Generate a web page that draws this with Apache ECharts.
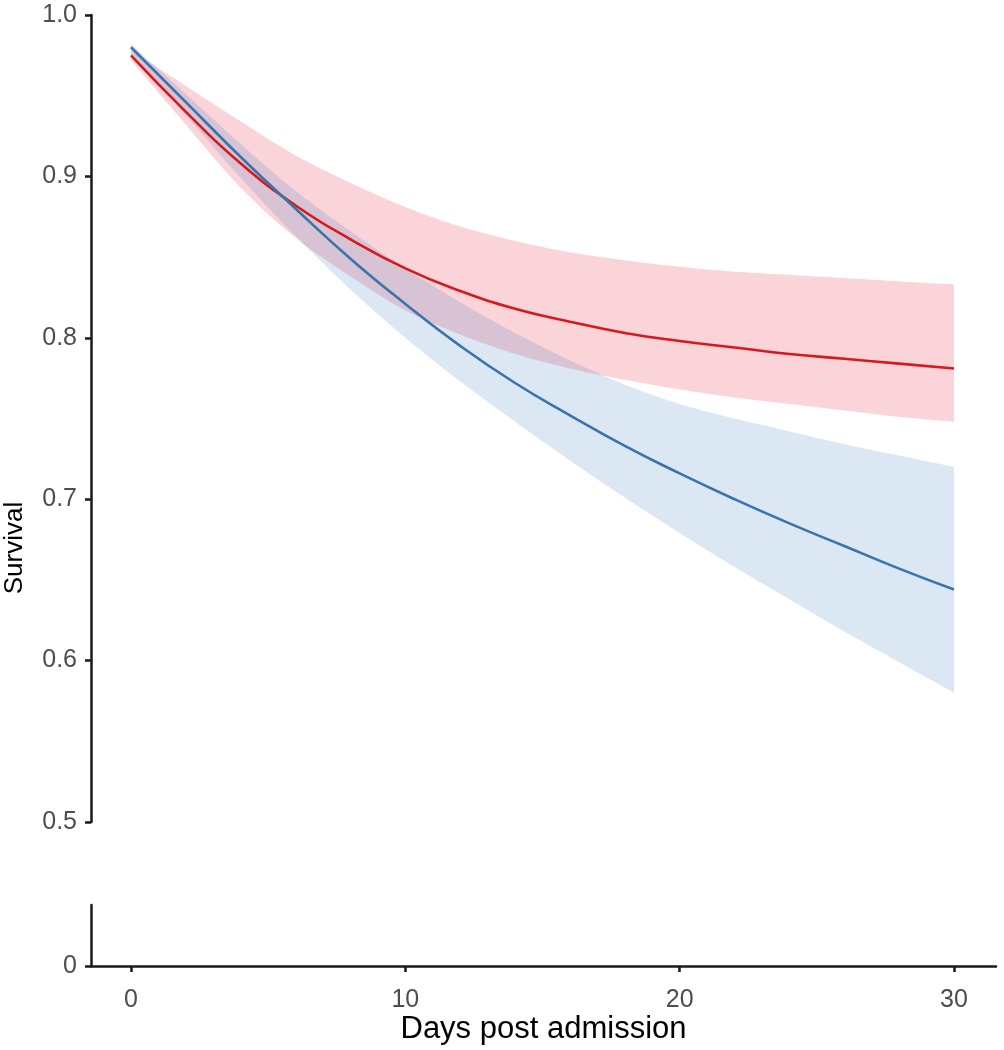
<!DOCTYPE html>
<html><head><meta charset="utf-8">
<script src="https://cdn.jsdelivr.net/npm/echarts@6/dist/echarts.min.js"></script>
<style>html,body{margin:0;padding:0;background:#fff}#c{width:1004px;height:1050px}</style>
</head><body><div id="c"></div>
<script>
const days = [0,2,4,6,8,10,12,14,16,18,20,22,24,26,28,30];
const redMean   = [0.975,0.940,0.908,0.882,0.861,0.843,0.829,0.818,0.810,0.803,0.798,0.794,0.790,0.787,0.784,0.781];
const redUpper  = [0.978,0.956,0.934,0.913,0.896,0.881,0.869,0.860,0.853,0.848,0.844,0.841,0.839,0.837,0.835,0.833];
const redLower  = [0.972,0.932,0.893,0.862,0.838,0.817,0.802,0.790,0.781,0.774,0.768,0.763,0.759,0.755,0.751,0.748];
const blueMean  = [0.980,0.946,0.912,0.880,0.849,0.821,0.795,0.772,0.752,0.733,0.716,0.700,0.685,0.671,0.657,0.644];
const blueUpper = [0.982,0.951,0.920,0.891,0.866,0.843,0.822,0.803,0.786,0.771,0.759,0.750,0.742,0.734,0.727,0.720];
const blueLower = [0.977,0.938,0.899,0.863,0.830,0.800,0.773,0.748,0.724,0.701,0.679,0.658,0.638,0.618,0.599,0.580];
const xTicks = [0,10,20,30];
const yTicks = [0.5,0.6,0.7,0.8,0.9,1.0];
const bottomTicks = [0];

const pair = (arr) => days.map((d,i)=>[d, arr[i]]);

const AX = '#1a1a1a', TXT = '#4d4d4d';
const FONT = '"Liberation Sans", Arial, sans-serif';
const XMIN = -1.458, XMAX = 31.53;

// Catmull-Rom sampling of pixel points (drawing only)
function smoothPts(p){
  const out=[]; const n=p.length;
  for(let i=0;i<n-1;i++){
    const p0=p[Math.max(i-1,0)], p1=p[i], p2=p[i+1], p3=p[Math.min(i+2,n-1)];
    const c1=[p1[0]+(p2[0]-p0[0])/6, p1[1]+(p2[1]-p0[1])/6];
    const c2=[p2[0]-(p3[0]-p1[0])/6, p2[1]-(p3[1]-p1[1])/6];
    const S=10;
    for(let s=0;s<S;s++){
      const t=s/S, u=1-t;
      out.push([u*u*u*p1[0]+3*u*u*t*c1[0]+3*u*t*t*c2[0]+t*t*t*p2[0],
                u*u*u*p1[1]+3*u*u*t*c1[1]+3*u*t*t*c2[1]+t*t*t*p2[1]]);
    }
  }
  out.push(p[n-1]);
  return out;
}
function bandItem(upper, lower, fill){
  return (params, api) => {
    const up = smoothPts(days.map((d,i)=>api.coord([d, upper[i]])));
    const lo = smoothPts(days.map((d,i)=>api.coord([d, lower[i]]))).reverse();
    return {type:'polygon', shape:{points: up.concat(lo)}, style:{fill:fill}};
  };
}

const chart = echarts.init(document.getElementById('c'), null, {renderer:'canvas'});
chart.setOption({
  animation:false,
  backgroundColor:'#fff',
  grid:[
    {left:91, right:8, top:15, height:807},
    {left:91, right:8, top:905, height:61}
  ],
  xAxis:[
    {gridIndex:0, type:'value', min:XMIN, max:XMAX, show:false, splitLine:{show:false}},
    {gridIndex:1, type:'value', min:XMIN, max:XMAX,
     axisLine:{show:true, onZero:false, lineStyle:{color:AX, width:2.5}},
     axisTick:{show:true, length:6, customValues:xTicks, lineStyle:{color:AX, width:2.5}},
     axisLabel:{customValues:xTicks, color:TXT, fontSize:25, fontFamily:FONT, margin:22},
     splitLine:{show:false},
     name:'Days post admission', nameLocation:'middle', nameGap:47,
     nameTextStyle:{color:'#000', fontSize:31, fontFamily:FONT}}
  ],
  yAxis:[
    {gridIndex:0, type:'value', min:0.5, max:1.0,
     axisLine:{show:true, onZero:false, lineStyle:{color:AX, width:2.5}},
     axisTick:{show:true, length:6, customValues:yTicks, lineStyle:{color:AX, width:2.5}},
     axisLabel:{customValues:yTicks, color:TXT, fontSize:25, fontFamily:FONT, margin:14,
       formatter:(v)=>Number(v).toFixed(1)},
     splitLine:{show:false}},
    {gridIndex:1, type:'value', min:0, max:1,
     axisLine:{show:true, onZero:false, lineStyle:{color:AX, width:2.5}},
     axisTick:{show:true, length:6, customValues:bottomTicks, lineStyle:{color:AX, width:2.5}},
     axisLabel:{customValues:bottomTicks, color:TXT, fontSize:25, fontFamily:FONT, margin:14},
     splitLine:{show:false}}
  ],
  graphic:[
    {type:'text', x:15, y:548, rotation:Math.PI/2,
     style:{text:'Survival', fontSize:26, fontFamily:FONT, fill:'#000', align:'center', verticalAlign:'middle'}}
  ],
  series:[
    {type:'custom', name:'red band', xAxisIndex:0, yAxisIndex:0, data:[[0,0.75]], silent:true, z:1,
     renderItem: bandItem(redUpper, redLower, 'rgba(236,40,72,0.2)')},
    {type:'custom', name:'blue band', xAxisIndex:0, yAxisIndex:0, data:[[0,0.75]], silent:true, z:1,
     renderItem: bandItem(blueUpper, blueLower, 'rgba(55,120,184,0.18)')},
    {type:'line', name:'red', data:pair(redMean), smooth:true, symbol:'none',
     lineStyle:{color:'#d7191c', width:2.6}, xAxisIndex:0, yAxisIndex:0, z:3},
    {type:'line', name:'blue', data:pair(blueMean), smooth:true, symbol:'none',
     lineStyle:{color:'#3a73ac', width:2.6}, xAxisIndex:0, yAxisIndex:0, z:4}
  ]
});
</script>
</body></html>
